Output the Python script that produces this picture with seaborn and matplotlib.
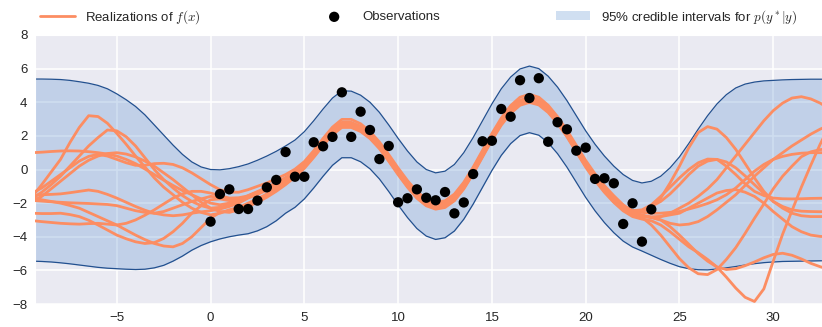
import matplotlib
matplotlib.use("Agg")
import matplotlib.pyplot as plt
import pandas as pd
import seaborn as sns

# Evaluation grid for the predictive band and the sampled functions
grid_x = [-9.5, -9.0, -8.5, -8.0, -7.5, -7.0, -6.5, -6.0, -5.5, -5.0,
          -4.5, -4.0, -3.5, -3.0, -2.5, -2.0, -1.5, -1.0, -0.5, 0.0,
          0.5, 1.0, 1.5, 2.0, 2.5, 3.0, 3.5, 4.0, 4.5, 5.0,
          5.5, 6.0, 6.5, 7.0, 7.5, 8.0, 8.5, 9.0, 9.5, 10.0,
          10.5, 11.0, 11.5, 12.0, 12.5, 13.0, 13.5, 14.0, 14.5, 15.0,
          15.5, 16.0, 16.5, 17.0, 17.5, 18.0, 18.5, 19.0, 19.5, 20.0,
          20.5, 21.0, 21.5, 22.0, 22.5, 23.0, 23.5, 24.0, 24.5, 25.0,
          25.5, 26.0, 26.5, 27.0, 27.5, 28.0, 28.5, 29.0, 29.5, 30.0,
          30.5, 31.0, 31.5, 32.0, 32.5, 33.0]

# 95% credible interval for p(y*|y)
band_upper = [5.38, 5.38, 5.37, 5.35, 5.30, 5.22, 5.13, 5.00, 4.80, 4.50,
              4.15, 3.75, 3.25, 2.65, 2.05, 1.45, 0.90, 0.45, 0.15, 0.00,
              -0.02, 0.05, 0.17, 0.33, 0.55, 0.80, 1.08, 1.40, 1.75, 2.25,
              2.90, 3.60, 4.25, 4.68, 4.66, 4.42, 4.00, 3.40, 2.65, 1.85,
              1.10, 0.45, 0.00, -0.20, -0.10, 0.30, 1.00, 1.90, 2.90, 3.90,
              4.80, 5.50, 5.98, 6.15, 6.00, 5.55, 4.90, 4.10, 3.20, 2.30,
              1.50, 0.80, 0.20, -0.30, -0.65, -0.80, -0.70, -0.40, 0.10, 0.75,
              1.55, 2.40, 3.20, 3.90, 4.45, 4.85, 5.08, 5.20, 5.27, 5.30,
              5.33, 5.35, 5.36, 5.37, 5.37, 5.37]
band_lower = [-5.45, -5.47, -5.50, -5.55, -5.61, -5.68, -5.75, -5.82, -5.87, -5.90,
              -5.93, -5.95, -5.93, -5.85, -5.70, -5.45, -5.15, -4.80, -4.52, -4.30,
              -4.13, -4.00, -3.90, -3.82, -3.65, -3.40, -3.05, -2.60, -2.25, -1.75,
              -1.10, -0.40, 0.25, 0.70, 0.70, 0.46, 0.04, -0.56, -1.31, -2.11,
              -2.86, -3.51, -3.96, -4.16, -4.06, -3.66, -2.96, -2.06, -1.06, -0.06,
              0.84, 1.54, 2.02, 2.19, 2.04, 1.59, 0.94, 0.14, -0.76, -1.66,
              -2.46, -3.16, -3.76, -4.26, -4.61, -4.85, -5.10, -5.35, -5.58, -5.78,
              -5.90, -5.96, -5.97, -5.92, -5.85, -5.77, -5.68, -5.60, -5.54, -5.50,
              -5.47, -5.46, -5.45, -5.44, -5.43, -5.42]

# Ten posterior realizations of f(x)
sample_1 = [-1.60, -0.90, -0.15, 0.60, 1.60, 2.50, 3.20, 3.15, 2.75, 2.15,
            1.50, 0.80, 0.15, -0.50, -1.05, -1.50, -1.95, -2.30, -2.55, -2.70,
            -2.60, -2.40, -2.25, -2.00, -1.75, -1.45, -1.10, -0.75, -0.35, 0.15,
            0.80, 1.50, 2.15, 2.58, 2.58, 2.34, 1.92, 1.32, 0.57, -0.23,
            -0.98, -1.63, -2.08, -2.28, -2.18, -1.78, -1.08, -0.18, 0.82, 1.82,
            2.72, 3.42, 3.90, 4.07, 3.92, 3.47, 2.82, 2.02, 1.12, 0.22,
            -0.58, -1.28, -1.88, -2.35, -2.65, -2.80, -2.85, -2.80, -2.60, -2.30,
            -2.00, -1.60, -1.15, -0.60, 0.10, 0.80, 1.50, 2.20, 2.90, 3.50,
            3.95, 4.25, 4.33, 4.20, 3.95, 3.60]
sample_2 = [-1.70, -1.35, -0.90, -0.40, 0.20, 0.80, 1.40, 1.90, 2.35, 2.30,
            1.95, 1.40, 0.70, 0.00, -0.60, -1.10, -1.55, -1.90, -2.15, -2.30,
            -2.25, -2.10, -1.85, -1.55, -1.31, -1.06, -0.78, -0.48, -0.13, 0.37,
            1.02, 1.72, 2.37, 2.80, 2.80, 2.56, 2.14, 1.54, 0.79, -0.01,
            -0.76, -1.41, -1.86, -2.06, -1.96, -1.56, -0.86, 0.04, 1.04, 2.04,
            2.94, 3.64, 4.12, 4.29, 4.14, 3.69, 3.04, 2.24, 1.34, 0.44,
            -0.36, -1.06, -1.66, -2.16, -2.45, -2.50, -2.25, -1.70, -0.80, 0.20,
            1.30, 2.20, 2.55, 2.40, 1.90, 1.20, 0.35, -0.50, -1.30, -1.90,
            -2.30, -2.60, -2.75, -2.80, -2.80, -2.80]
sample_3 = [1.00, 1.03, 1.07, 1.10, 1.11, 1.10, 1.06, 1.00, 0.92, 0.80,
            0.60, 0.35, 0.03, -0.30, -0.63, -0.95, -1.25, -1.50, -1.75, -2.00,
            -2.10, -2.00, -1.82, -1.60, -1.38, -1.13, -0.85, -0.55, -0.20, 0.30,
            0.95, 1.65, 2.30, 2.73, 2.73, 2.49, 2.07, 1.47, 0.72, -0.08,
            -0.83, -1.48, -1.93, -2.13, -2.03, -1.63, -0.93, -0.03, 0.97, 1.97,
            2.87, 3.57, 4.05, 4.22, 4.07, 3.62, 2.97, 2.17, 1.27, 0.37,
            -0.43, -1.13, -1.73, -2.20, -2.45, -2.40, -2.10, -1.60, -1.05, -0.50,
            0.00, 0.40, 0.62, 0.60, 0.20, -0.30, -0.85, -1.30, -1.55, -1.70,
            -1.74, -1.75, -1.74, -1.72, -1.71, -1.70]
sample_4 = [-1.90, -1.60, -1.15, -0.70, -0.25, 0.20, 0.55, 0.80, 0.95, 1.00,
            0.92, 0.75, 0.50, 0.20, -0.20, -0.60, -1.05, -1.50, -1.95, -2.30,
            -2.50, -2.55, -2.40, -2.20, -1.95, -1.65, -1.30, -0.90, -0.45, 0.07,
            0.72, 1.42, 2.07, 2.50, 2.50, 2.26, 1.84, 1.24, 0.49, -0.31,
            -1.06, -1.71, -2.16, -2.36, -2.26, -1.86, -1.16, -0.26, 0.74, 1.74,
            2.64, 3.34, 3.82, 3.99, 3.84, 3.39, 2.74, 1.94, 1.04, 0.14,
            -0.66, -1.36, -1.96, -2.46, -2.80, -2.95, -3.05, -3.30, -3.70, -4.15,
            -4.60, -4.95, -5.35, -5.80, -6.40, -7.05, -7.60, -7.85, -7.10, -5.45,
            -3.85, -2.45, -1.05, 0.25, 1.50, 2.60]
sample_5 = [-1.40, -1.10, -0.70, -0.30, 0.10, 0.50, 0.78, 0.90, 0.80, 0.60,
            0.40, 0.25, 0.25, 0.35, 0.37, 0.30, 0.10, -0.20, -0.55, -0.90,
            -1.20, -1.35, -1.35, -1.20, -1.00, -0.80, -0.55, -0.30, 0.02, 0.47,
            1.12, 1.85, 2.52, 2.98, 2.98, 2.72, 2.26, 1.64, 0.89, 0.09,
            -0.66, -1.31, -1.76, -1.96, -1.86, -1.46, -0.76, 0.14, 1.14, 2.14,
            3.06, 3.80, 4.30, 4.47, 4.30, 3.82, 3.14, 2.34, 1.44, 0.54,
            -0.26, -0.96, -1.56, -2.10, -2.50, -2.85, -3.30, -3.90, -4.60, -5.30,
            -5.85, -6.20, -6.25, -5.95, -5.35, -4.65, -3.80, -2.90, -2.05, -1.15,
            -0.40, 0.20, 0.76, 1.05, 1.18, 1.25]
sample_6 = [-1.57, -1.50, -1.48, -1.45, -1.38, -1.30, -1.22, -1.30, -1.48, -1.70,
            -1.95, -2.20, -2.42, -2.60, -2.70, -2.75, -2.70, -2.60, -2.52, -2.45,
            -2.35, -2.20, -2.00, -1.70, -1.48, -1.23, -0.95, -0.65, -0.30, 0.20,
            0.85, 1.55, 2.20, 2.63, 2.63, 2.39, 1.97, 1.37, 0.62, -0.18,
            -0.93, -1.58, -2.03, -2.23, -2.13, -1.73, -1.03, -0.13, 0.87, 1.87,
            2.77, 3.47, 3.95, 4.12, 3.97, 3.52, 2.87, 2.07, 1.17, 0.27,
            -0.53, -1.23, -1.83, -2.30, -2.60, -2.75, -2.85, -3.00, -3.40, -3.90,
            -4.45, -5.00, -5.45, -5.80, -5.95, -5.90, -5.72, -5.50, -5.25, -5.05,
            -4.98, -5.10, -5.32, -5.58, -5.78, -5.95]
sample_7 = [-1.84, -1.88, -1.92, -1.95, -1.98, -2.00, -2.02, -2.05, -2.08, -2.15,
            -2.30, -2.45, -2.55, -2.60, -2.50, -2.30, -2.10, -1.90, -1.75, -1.60,
            -1.65, -1.80, -1.78, -1.63, -1.41, -1.16, -0.88, -0.58, -0.23, 0.27,
            0.92, 1.62, 2.27, 2.70, 2.70, 2.46, 2.04, 1.44, 0.69, -0.11,
            -0.86, -1.51, -1.96, -2.16, -2.06, -1.66, -0.96, -0.06, 0.94, 1.94,
            2.84, 3.54, 4.02, 4.19, 4.04, 3.59, 2.94, 2.14, 1.24, 0.34,
            -0.46, -1.16, -1.76, -2.25, -2.55, -2.70, -2.85, -3.00, -3.20, -3.30,
            -3.25, -3.10, -2.80, -2.40, -1.95, -1.50, -0.95, -0.40, 0.10, 0.60,
            1.00, 1.40, 1.75, 2.10, 2.40, 2.65]
sample_8 = [-3.04, -3.10, -3.15, -3.20, -3.23, -3.25, -3.22, -3.20, -3.25, -3.30,
            -3.20, -3.00, -2.72, -2.40, -2.05, -1.70, -1.45, -1.30, -1.30, -1.40,
            -1.55, -1.70, -1.68, -1.57, -1.35, -1.10, -0.82, -0.52, -0.17, 0.33,
            0.98, 1.68, 2.33, 2.76, 2.76, 2.52, 2.10, 1.50, 0.75, -0.05,
            -0.80, -1.45, -1.90, -2.10, -2.00, -1.60, -0.90, 0.00, 1.00, 2.00,
            2.90, 3.60, 4.08, 4.25, 4.10, 3.65, 3.00, 2.20, 1.30, 0.40,
            -0.40, -1.10, -1.70, -2.20, -2.45, -2.55, -2.60, -2.60, -2.55, -2.50,
            -2.35, -2.20, -2.02, -1.80, -1.50, -1.10, -0.60, -0.10, 0.30, 0.60,
            0.78, 0.90, 0.97, 1.00, 1.00, 1.00]
sample_9 = [-2.60, -2.62, -2.62, -2.60, -2.68, -2.80, -3.02, -3.30, -3.60, -3.90,
            -4.12, -4.30, -4.40, -4.35, -4.10, -3.70, -3.20, -2.60, -2.15, -1.80,
            -1.75, -1.85, -1.83, -1.67, -1.45, -1.20, -0.92, -0.62, -0.27, 0.23,
            0.88, 1.58, 2.23, 2.66, 2.66, 2.42, 2.00, 1.40, 0.65, -0.15,
            -0.90, -1.55, -2.00, -2.20, -2.10, -1.70, -1.00, -0.10, 0.90, 1.90,
            2.80, 3.50, 3.98, 4.15, 4.00, 3.55, 2.90, 2.10, 1.20, 0.30,
            -0.50, -1.20, -1.80, -2.25, -2.50, -2.45, -2.20, -1.90, -1.45, -0.90,
            -0.30, 0.20, 0.50, 0.60, 0.45, 0.10, -0.38, -0.90, -1.42, -1.90,
            -2.20, -2.40, -2.48, -2.50, -2.51, -2.50]
sample_10 = [-1.67, -1.80, -1.90, -2.00, -2.14, -2.30, -2.55, -2.80, -3.05, -3.30,
             -3.60, -3.90, -4.17, -4.40, -4.55, -4.60, -4.40, -4.00, -3.45, -2.90,
             -2.55, -2.45, -2.30, -2.10, -1.85, -1.55, -1.20, -0.80, -0.40, 0.13,
             0.78, 1.48, 2.13, 2.56, 2.56, 2.32, 1.90, 1.30, 0.55, -0.25,
             -1.00, -1.65, -2.10, -2.30, -2.20, -1.80, -1.10, -0.20, 0.80, 1.80,
             2.70, 3.40, 3.88, 4.05, 3.90, 3.45, 2.80, 2.00, 1.10, 0.20,
             -0.60, -1.30, -1.90, -2.40, -2.70, -2.80, -2.82, -2.80, -2.70, -2.60,
             -2.30, -2.00, -1.70, -1.40, -1.25, -1.20, -1.35, -1.60, -2.00, -2.50,
             -2.95, -3.40, -3.70, -3.90, -3.98, -4.00]
samples = [sample_1, sample_2, sample_3, sample_4, sample_5,
           sample_6, sample_7, sample_8, sample_9, sample_10]

# Noisy observations
obs_x = [0, 0.5, 1, 1.5, 2, 2.5, 3, 3.5, 4, 4.5, 5, 5.5, 6, 6.5, 7, 7.5, 8, 8.5, 9, 9.5,
         10, 10.5, 11, 11.5, 12, 12.5, 13, 13.5, 14, 14.5, 15, 15.5, 16, 16.5, 17, 17.5,
         18, 18.5, 19, 19.5, 20, 20.5, 21, 21.5, 22, 22.5, 23, 23.5]
obs_y = [-3.10, -1.46, -1.18, -2.35, -2.35, -1.85, -1.06, -0.62, 1.04, -0.43, -0.43, 1.62,
         1.38, 1.94, 4.59, 1.94, 3.44, 2.35, 0.62, 1.40, -1.95, -1.71, -1.18, -1.68, -1.83,
         -1.34, -2.61, -1.96, -0.27, 1.68, 1.71, 3.60, 3.14, 5.31, 4.25, 5.43, 1.65, 2.81,
         2.39, 1.12, 1.30, -0.56, -0.52, -0.82, -3.24, -2.01, -4.29, -2.37]

x_ticks = [-5, 0, 5, 10, 15, 20, 25, 30]
y_ticks = [-8, -6, -4, -2, 0, 2, 4, 6, 8]

sns.set_style("darkgrid")
plt.rcParams["font.family"] = ["Liberation Sans", "DejaVu Sans"]
plt.rcParams["mathtext.fontset"] = "cm"

fig = plt.figure(figsize=(8.22, 3.27), dpi=100)
ax = fig.add_axes([0.0426, 0.0703, 0.9574, 0.8227])

band = pd.DataFrame({"x": grid_x, "upper": band_upper, "lower": band_lower})
ax.fill_between(band["x"], band["lower"], band["upper"], color="#6496D2", alpha=0.3,
                lw=0, label=r"95% credible intervals for $p(y^*|y)$", zorder=1)
sns.lineplot(data=band, x="x", y="upper", color="#22508F", lw=0.9, ax=ax, zorder=2)
sns.lineplot(data=band, x="x", y="lower", color="#22508F", lw=0.9, ax=ax, zorder=2)

for i, s in enumerate(samples):
    sns.lineplot(x=grid_x, y=s, color="#FC8D62", lw=2.0, ax=ax, zorder=3,
                 label=r"Realizations of $f(x)$" if i == 0 else None)

sns.scatterplot(x=obs_x, y=obs_y, color="black", s=55, edgecolor="none", ax=ax,
                zorder=4, label="Observations")

ax.set_xlim(-9.36, 32.6)
ax.set_ylim(-8, 8)
ax.set_xticks(x_ticks)
ax.set_yticks(y_ticks)
ax.set_xlabel("")
ax.set_ylabel("")
ax.tick_params(labelsize=9.5, colors="#262626", length=2.5, width=0.8, pad=3)
ax.grid(color="white", lw=1.1)

handles, labels = ax.get_legend_handles_labels()
order = [labels.index(r"Realizations of $f(x)$"), labels.index("Observations"),
         labels.index(r"95% credible intervals for $p(y^*|y)$")]
ax.legend([handles[k] for k in order], [labels[k] for k in order],
          loc="lower left", bbox_to_anchor=(0.0, 1.015, 0.975, 0.1), mode="expand",
          ncol=3, frameon=False, fontsize=9.5, handlelength=2.6, borderaxespad=0.0)

fig.savefig("out.png", dpi=100)
